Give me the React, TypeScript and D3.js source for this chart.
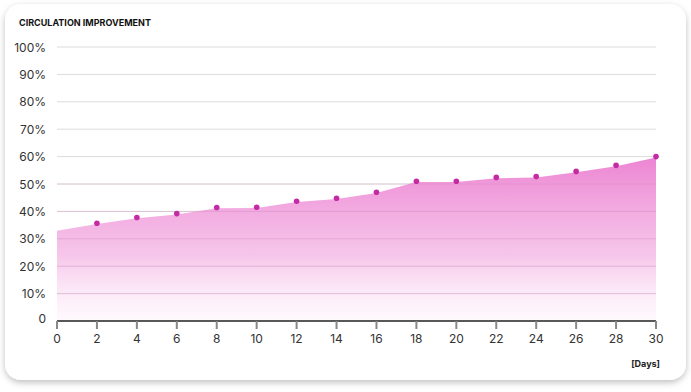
import React from "react";
import * as d3 from "d3";

const days = [0, 2, 4, 6, 8, 10, 12, 14, 16, 18, 20, 22, 24, 26, 28, 30];
const values = [33.2, 35.7, 37.8, 39.2, 41.4, 41.5, 43.7, 44.8, 47.0, 51.0, 51.0, 52.4, 52.7, 54.6, 56.8, 60.0];
const yTicks = [0, 10, 20, 30, 40, 50, 60, 70, 80, 90, 100];
const xTicks = [0, 2, 4, 6, 8, 10, 12, 14, 16, 18, 20, 22, 24, 26, 28, 30];
const title = "CIRCULATION IMPROVEMENT";
const xUnit = "[Days]";

export default function App() {
  const W = 691, H = 392;
  const x = d3.scaleLinear().domain([0, 30]).range([57, 656]);
  const y = d3.scaleLinear().domain([0, 100]).range([321, 47]);
  const pts = days.map((d, i) => [d, values[i]] as [number, number]);
  const area = d3.area<[number, number]>().x(p => x(p[0])).y0(y(0)).y1(p => y(p[1]) + 0.8)(pts) || "";
  const font = "Inter, 'Noto Sans', sans-serif";
  return (
    <svg width={W} height={H} style={{ position: "absolute", left: 0, top: 0 }} fontFamily={font}>
      <defs>
        <linearGradient id="ag" x1="0" y1="0" x2="0" y2="1" gradientUnits="objectBoundingBox">
          <stop offset="0%" stopColor="#ec7fd1" stopOpacity={0.95} />
          <stop offset="60%" stopColor="#f3b3e3" stopOpacity={0.75} />
          <stop offset="100%" stopColor="#fce8f7" stopOpacity={0.25} />
        </linearGradient>
        <filter id="sh" x="-5%" y="-5%" width="110%" height="115%">
          <feDropShadow dx="0" dy="2.5" stdDeviation="3" floodColor="#000" floodOpacity={0.25} />
        </filter>
      </defs>
      <rect x={0} y={0} width={W} height={H} fill="#fff" />
      <rect x={5} y={4} width={681} height={376} rx={16} fill="#fff" filter="url(#sh)" />
      <text x={19} y={26} fontSize={9} fontWeight={700} fill="#111">{title}</text>
      {yTicks.map(t => (
        <g key={t}>
          {t > 0 && <line x1={x(0)} x2={x(30)} y1={y(t)} y2={y(t)} stroke="#dcdcdc" strokeWidth={1} />}
          <text x={46} y={y(t) + (t === 0 ? 2 : 4.5)} fontSize={12} textAnchor="end" fill="#333">{t === 0 ? "0" : `${t}%`}</text>
        </g>
      ))}
      <path d={area} fill="url(#ag)" />
      {yTicks.filter(t => t > 0 && t < 60).map(t => (
        <line key={"g" + t} x1={x(0)} x2={x(30)} y1={y(t)} y2={y(t)} stroke="#d58fc4" strokeOpacity={0.35} strokeWidth={1} />
      ))}
      <line x1={x(0)} x2={x(30)} y1={y(0)} y2={y(0)} stroke="#222" strokeWidth={1.5} />
      {xTicks.map(t => (
        <g key={"x" + t}>
          <line x1={x(t)} x2={x(t)} y1={y(0)} y2={y(0) + 8} stroke="#888" strokeWidth={2} />
          <text x={x(t)} y={343} fontSize={12} textAnchor="middle" fill="#333">{t}</text>
        </g>
      ))}
      {pts.slice(1).map(p => (
        <circle key={"c" + p[0]} cx={x(p[0])} cy={y(p[1])} r={2.8} fill="#c52aa5" />
      ))}
      <text x={660} y={367} fontSize={9} fontWeight={700} textAnchor="end" fill="#222">{xUnit}</text>
    </svg>
  );
}
